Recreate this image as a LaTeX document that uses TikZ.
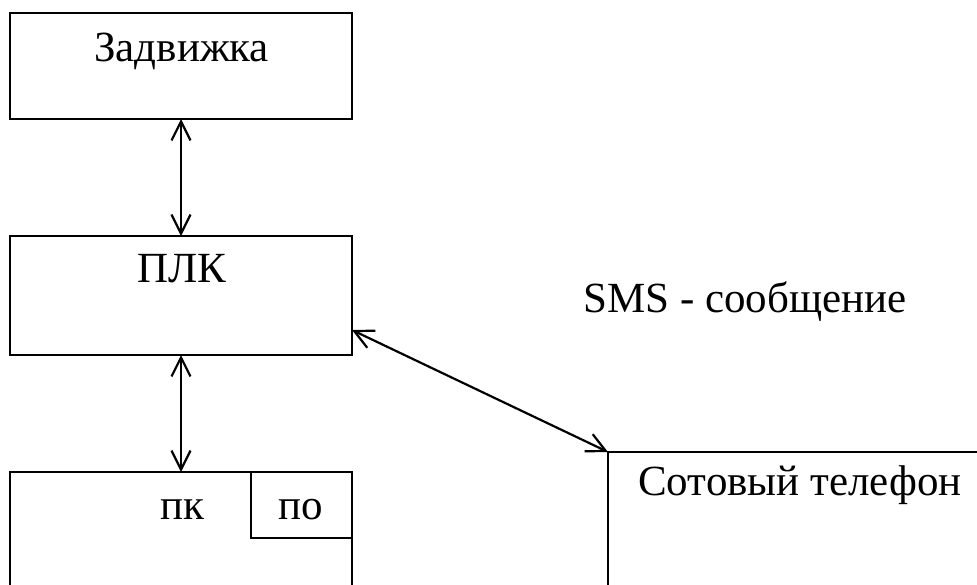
\documentclass[tikz,border=0pt]{standalone}
\usepackage{fontspec}
\setmainfont{Liberation Serif}
\usetikzlibrary{arrows.meta}
\begin{document}
\begin{tikzpicture}[x=1pt,y=-1pt,
  blk/.style={draw, line width=2.8pt, inner sep=0pt, outer sep=0pt, anchor=north west},
  lbl/.style={font=\fontsize{43}{50}\selectfont, inner sep=0pt, anchor=base west},
  link/.style={line width=2.2pt, {Straight Barb[length=19pt,width=19pt]}-{Straight Barb[length=19pt,width=19pt]}}]
\useasboundingbox (0,0) rectangle (977,584);
\clip (0,0) rectangle (977,584);
% blocks
\node[blk, minimum width=342pt, minimum height=106pt] (valve) at (10,13) {};
\node[blk, minimum width=342pt, minimum height=119pt] (plc) at (10,236) {};
\node[blk, minimum width=342pt, minimum height=200pt] (pc) at (10,472) {};
\node[blk, anchor=north east, minimum width=101pt, minimum height=66pt] (sw) at (pc.north east) {};
\node[blk, minimum width=500pt, minimum height=300pt] (phone) at (608,452) {};
% labels
\node[lbl] (tvalve) at (94,61) {Задвижка};
\node[lbl] (tplc) at (137,282) {ПЛК};
\node[lbl] (tpc) at (160,519) {пк};
\node[lbl] (tsw) at (278,519) {по};
\node[lbl] (tphone) at (638,495) {Сотовый телефон};
\node[lbl] (tsms) at (583,312) {SMS - сообщение};
% connections
\draw[link] (valve.south) -- (plc.north);
\draw[link] (plc.south) -- (pc.north);
\draw[link] ([yshift=-34.5pt]plc.east) -- (phone.north west);
\end{tikzpicture}
\end{document}
